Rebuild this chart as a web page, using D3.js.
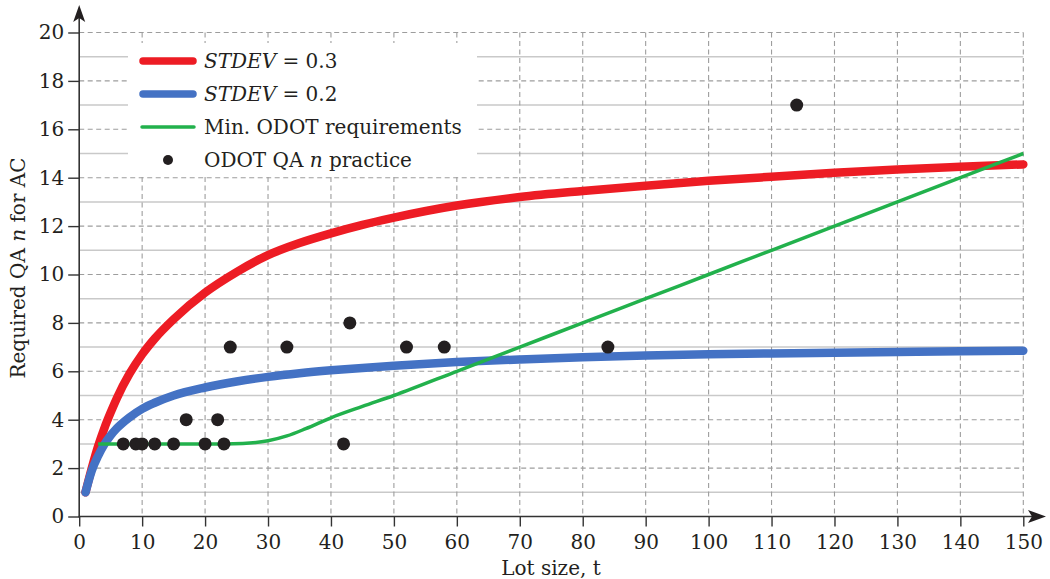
<!DOCTYPE html>
<html>
<head>
<meta charset="utf-8">
<script src="https://cdn.jsdelivr.net/npm/d3@7"></script>
<style>
  html, body { margin: 0; padding: 0; background: #fff; }
  svg { display: block; font-family: "DejaVu Serif", serif; }
</style>
</head>
<body>
<svg id="chart" width="1050" height="579"></svg>
<script>
// ---- data ----
const lotSize = [1, 2, 3, 4, 5, 6, 8, 10, 12, 15, 20, 25, 30, 35, 40, 45, 50, 60, 70, 80, 90, 100, 110, 120, 130, 140, 150];
const stdev03 = [1, 2.0, 2.9, 3.65, 4.3, 4.9, 5.9, 6.7, 7.35, 8.15, 9.25, 10.1, 10.8, 11.3, 11.7, 12.05, 12.35, 12.85, 13.2, 13.45, 13.67, 13.87, 14.04, 14.2, 14.34, 14.45, 14.55];
const stdev02 = [1, 1.9, 2.5, 2.98, 3.35, 3.65, 4.1, 4.45, 4.7, 5.0, 5.33, 5.58, 5.77, 5.92, 6.04, 6.14, 6.23, 6.38, 6.49, 6.58, 6.65, 6.7, 6.74, 6.77, 6.8, 6.83, 6.85];
const odotMinX = [3, 23, 26, 30, 33, 36, 40, 45, 50, 60, 70, 80, 90, 100, 110, 120, 130, 140, 150];
const odotMinY = [3, 3, 3.02, 3.13, 3.33, 3.63, 4.08, 4.55, 5, 6, 7, 8, 9, 10, 11, 12, 13, 14, 15];
const practiceX = [7, 9, 10, 12, 15, 20, 23, 17, 22, 24, 33, 43, 42, 52, 58, 84, 114];
const practiceY = [3, 3, 3, 3, 3, 3, 3, 4, 4, 7, 7, 8, 3, 7, 7, 7, 17];
const xTicks = [0, 10, 20, 30, 40, 50, 60, 70, 80, 90, 100, 110, 120, 130, 140, 150];
const yTicks = [0, 2, 4, 6, 8, 10, 12, 14, 16, 18, 20];
const yMinor = [1, 3, 5, 7, 9, 11, 13, 15, 17, 19];

const svg = d3.select("#chart");
const x = d3.scaleLinear().domain([0, 150]).range([79.2, 1023.3]);
const y = d3.scaleLinear().domain([0, 20]).range([516.5, 32.5]);

const axisColor = "#333";
const grid = svg.append("g");
// solid minor horizontal lines
grid.selectAll("line.minor").data(yMinor).join("line")
  .attr("x1", x(0)).attr("x2", x(150))
  .attr("y1", d => y(d)).attr("y2", d => y(d))
  .attr("stroke", "#c9c9c9").attr("stroke-width", 1.5);
// dashed major horizontal
grid.selectAll("line.hmaj").data(yTicks.filter(d => d > 0)).join("line")
  .attr("x1", x(0)).attr("x2", x(150))
  .attr("y1", d => y(d)).attr("y2", d => y(d))
  .attr("stroke", "#9d9d9d").attr("stroke-width", 1.1)
  .attr("stroke-dasharray", "5,3.5");
// dashed major vertical
grid.selectAll("line.vmaj").data(xTicks.filter(d => d > 0)).join("line")
  .attr("x1", d => x(d)).attr("x2", d => x(d))
  .attr("y1", y(20)).attr("y2", y(0))
  .attr("stroke", "#9d9d9d").attr("stroke-width", 1.1)
  .attr("stroke-dasharray", "5,3.5");

// legend background
svg.append("rect").attr("x", 128).attr("y", 43).attr("width", 349).attr("height", 132).attr("fill", "#fff");

// axes
const xAxis = svg.append("g").attr("transform", `translate(0,${y(0)})`)
  .call(d3.axisBottom(x).tickValues(xTicks).tickSize(10).tickPadding(8));
const yAxis = svg.append("g").attr("transform", `translate(${x(0)},0)`)
  .call(d3.axisLeft(y).tickValues(yTicks).tickSize(11).tickPadding(4));
[xAxis, yAxis].forEach(a => {
  a.select(".domain").remove();
  a.selectAll(".tick line").attr("stroke", axisColor).attr("stroke-width", 1.4);
  a.selectAll(".tick text").attr("fill", "#231F20").style("font-size", "20px").style("font-family", "DejaVu Serif");
});
// axis lines with arrows
svg.append("line").attr("x1", x(0)).attr("x2", x(0)).attr("y1", y(0) + 0.7).attr("y2", 16)
  .attr("stroke", axisColor).attr("stroke-width", 1.6);
svg.append("line").attr("x1", x(0) - 0.7).attr("x2", 1036).attr("y1", y(0)).attr("y2", y(0))
  .attr("stroke", axisColor).attr("stroke-width", 1.6);
svg.append("path").attr("d", `M${x(0)},5 L${x(0) + 6},22 L${x(0)},18 L${x(0) - 6},22 Z`).attr("fill", "#231F20");
svg.append("path").attr("d", `M1046,${y(0)} L1028,${y(0) - 6.5} L1032,${y(0)} L1028,${y(0) + 6.5} Z`).attr("fill", "#231F20");

// axis titles
svg.append("text").attr("x", 551).attr("y", 575).attr("text-anchor", "middle")
  .style("font-size", "20px").attr("fill", "#231F20").text("Lot size, t");
const yt = svg.append("text").attr("transform", "translate(25,268) rotate(-90)").attr("text-anchor", "middle")
  .style("font-size", "20px").attr("fill", "#231F20");
yt.append("tspan").text("Required QA ");
yt.append("tspan").style("font-style", "italic").text("n");
yt.append("tspan").text(" for AC");

// curves
const line = d3.line().x(d => x(d[0])).y(d => y(d[1])).curve(d3.curveMonotoneX);
svg.append("path").datum(lotSize.map((v, i) => [v, stdev03[i]]))
  .attr("d", line).attr("fill", "none").attr("stroke", "#ED1C24").attr("stroke-width", 8.5)
  .attr("stroke-linecap", "round").attr("stroke-linejoin", "round");
svg.append("path").datum(lotSize.map((v, i) => [v, stdev02[i]]))
  .attr("d", line).attr("fill", "none").attr("stroke", "#4472C4").attr("stroke-width", 8.5)
  .attr("stroke-linecap", "round").attr("stroke-linejoin", "round");
svg.append("path").datum(odotMinX.map((v, i) => [v, odotMinY[i]]))
  .attr("d", line).attr("fill", "none").attr("stroke", "#22B14C").attr("stroke-width", 3.5)
  .attr("stroke-linejoin", "round");

// practice points
svg.append("g").selectAll("circle").data(practiceX.map((v, i) => [v, practiceY[i]])).join("circle")
  .attr("cx", d => x(d[0])).attr("cy", d => y(d[1])).attr("r", 6.5).attr("fill", "#231F20");

// legend
const leg = svg.append("g").style("font-size", "20px").attr("fill", "#231F20");
const rows = [61, 94, 127, 160];
leg.append("line").attr("x1", 143).attr("x2", 193).attr("y1", rows[0]).attr("y2", rows[0])
  .attr("stroke", "#ED1C24").attr("stroke-width", 7.5).attr("stroke-linecap", "round");
leg.append("line").attr("x1", 143).attr("x2", 193).attr("y1", rows[1]).attr("y2", rows[1])
  .attr("stroke", "#4472C4").attr("stroke-width", 7.5).attr("stroke-linecap", "round");
leg.append("line").attr("x1", 142).attr("x2", 194).attr("y1", rows[2]).attr("y2", rows[2])
  .attr("stroke", "#22B14C").attr("stroke-width", 3.5).attr("stroke-linecap", "round");
leg.append("circle").attr("cx", 168).attr("cy", rows[3]).attr("r", 5).attr("fill", "#231F20");

function legText(yy, parts) {
  const t = leg.append("text").attr("x", 204).attr("y", yy + 7.3);
  parts.forEach(p => t.append("tspan").style("font-style", p[1] ? "italic" : "normal").text(p[0]));
}
legText(rows[0], [["STDEV", true], [" = 0.3", false]]);
legText(rows[1], [["STDEV", true], [" = 0.2", false]]);
legText(rows[2], [["Min. ODOT requirements", false]]);
legText(rows[3], [["ODOT QA ", false], ["n", true], [" practice", false]]);
</script>
</body>
</html>
